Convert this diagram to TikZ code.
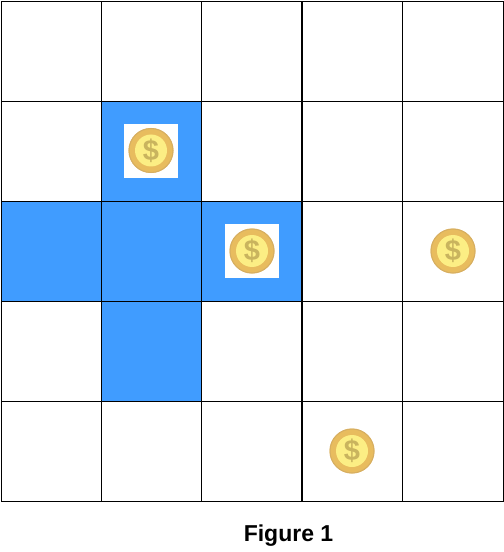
\documentclass[tikz,border=0pt]{standalone}
\usepackage{fontspec}
\setmainfont{Liberation Sans}
\definecolor{cellblue}{HTML}{409CFF}
\definecolor{coinrim}{HTML}{E8BC5E}
\definecolor{coinedge}{HTML}{D6AE62}
\definecolor{coinface}{HTML}{FCEE84}
\definecolor{coinmark}{HTML}{C9B45E}
\tikzset{
  blue cell/.style={fill=cellblue,draw=none},
  gridline/.style={black,line width=1bp},
  heavyline/.style={black,line width=1.7bp},
  backing/.style={fill=white,draw=none,minimum size=54bp,inner sep=0pt},
  coin/.pic={
    \fill[coinrim] (0,0) circle (22.5bp);
    \draw[coinedge,line width=1bp] (0,0) circle (22bp);
    \fill[coinface] (0,0) circle (16bp);
    \node[coinmark,font=\fontsize{29bp}{29bp}\selectfont\bfseries,inner sep=0pt] at (0,0) {\$};
  }
}
\begin{document}
\begin{tikzpicture}[x=1bp,y=-1bp]
\useasboundingbox (0,0) rectangle (504,552);
\fill[white] (0,0) rectangle (504,552);
% blue cells
\fill[blue cell] (101,101.5) rectangle (201,201.5);
\fill[blue cell] (1,201.5) rectangle (302,301.5);
\fill[blue cell] (101,301.5) rectangle (201,401.5);
% white backings behind two coins
\node[backing] (b1) at (151,151) {};
\node[backing] (b2) at (252,251) {};
% grid
\foreach \x in {1,101,201,402.6,503} \draw[gridline] (\x,1.5) -- (\x,501.5);
\draw[heavyline] (302,1.5) -- (302,501.5);
\foreach \y in {1.5,101.5,201.5,301.5,401.5,501.5} \draw[gridline] (1,\y) -- (503,\y);
% coins
\pic at (151,150.5) {coin};
\pic at (252,251) {coin};
\pic at (453,251) {coin};
\pic at (352,451) {coin};
\node[font=\fontsize{23bp}{24bp}\selectfont\bfseries,text=black,inner sep=0pt] (cap) at (288.5,535.5) {Figure 1};
\end{tikzpicture}
\end{document}
